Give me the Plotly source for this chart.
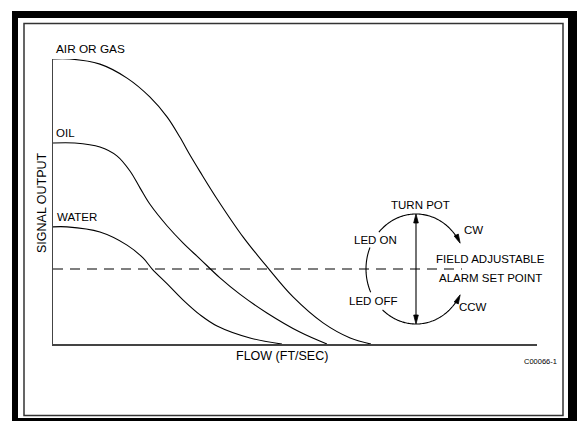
import numpy as np
import plotly.graph_objects as go

W, H = 577, 421

# ---------------- data (flow units 0-10, signal units 0-10) ----------------
air_flow = [0, 0.35, 0.97, 1.53, 2.00, 2.36, 2.62, 2.83, 3.04, 3.39, 3.93, 4.44, 4.96, 5.58, 6.14, 6.57]
air_sig = [10.0, 10.0, 9.82, 9.33, 8.67, 7.96, 7.26, 6.63, 6.04, 5.09, 3.75, 2.67, 1.65, 0.74, 0.21, 0]

oil_flow = [0, 0.45, 0.97, 1.32, 1.59, 1.80, 2.00, 2.36, 2.69, 3.04, 3.45, 3.86, 4.42, 5.10, 5.66]
oil_sig = [7.05, 7.05, 6.91, 6.60, 6.07, 5.47, 4.91, 4.14, 3.54, 2.98, 2.32, 1.75, 1.09, 0.42, 0]

water_flow = [0, 0.29, 0.97, 1.53, 1.86, 2.05, 2.36, 2.69, 3.04, 3.39, 4.07, 4.73]
water_sig = [4.11, 4.11, 3.93, 3.47, 3.02, 2.63, 2.11, 1.54, 1.02, 0.63, 0.21, 0]

alarm_flow = [0, 8.45]
alarm_sig = [2.63, 2.63]

# axes placement in pixels
X0, X1 = 53, 537
Y0, Y1 = 344, 59


def P(x, y):
    return x / W, 1 - y / H


def path(pts, close=False):
    s = ""
    for i, (x, y) in enumerate(pts):
        px, py = P(x, y)
        s += ("M" if i == 0 else " L") + f"{px:.5f},{py:.5f}"
    if close:
        s += " Z"
    return s


fig = go.Figure()

line = dict(color="black", width=1.1, shape="spline", smoothing=1.0)
fig.add_trace(go.Scatter(x=air_flow, y=air_sig, mode="lines", line=line, hoverinfo="skip"))
fig.add_trace(go.Scatter(x=oil_flow, y=oil_sig, mode="lines", line=line, hoverinfo="skip"))
fig.add_trace(go.Scatter(x=water_flow, y=water_sig, mode="lines", line=line, hoverinfo="skip"))
fig.add_trace(go.Scatter(x=alarm_flow, y=alarm_sig, mode="lines",
                         line=dict(color="black", width=1.1, dash="10px,7px"), hoverinfo="skip"))

shapes = []
# outer thick frame
shapes.append(dict(type="rect", xref="paper", yref="paper", x0=12 / W, x1=1.01, y0=-0.01, y1=1 - 11 / H,
                   fillcolor="black", line=dict(width=0), layer="below"))
shapes.append(dict(type="rect", xref="paper", yref="paper", x0=18 / W, x1=568 / W, y0=1 - 418 / H, y1=1 - 18 / H,
                   fillcolor="white", line=dict(width=0), layer="below"))
shapes.append(dict(type="rect", xref="paper", yref="paper", x0=24 / W, x1=563 / W, y0=1 - 415.5 / H, y1=1 - 23.5 / H,
                   fillcolor="rgba(0,0,0,0)", line=dict(color="#333", width=1.5), layer="below"))

# ellipse diagram
cx, cy, rx, ry = 416, 269, 50, 55


def ell(t):
    r = np.radians(t)
    return cx + rx * np.cos(r), cy - ry * np.sin(r)


def arc(t0, t1, n=40):
    return [ell(t) for t in np.linspace(t0, t1, n)]


for a, b in [(90, 138), (157, 205), (228, 270)]:
    shapes.append(dict(type="path", xref="paper", yref="paper", path=path(arc(a, b)),
                       line=dict(color="black", width=1.1)))


def head(tip, direction, length=9, half=2.3):
    dx, dy = direction
    n = np.hypot(dx, dy)
    dx, dy = dx / n, dy / n
    bx, by = tip[0] - dx * length, tip[1] - dy * length
    nx, ny = -dy, dx
    return [tip, (bx + nx * half, by + ny * half), (bx - nx * half, by - ny * half)]


# CW arc (top right, decreasing angle)
tcw = 28
shapes.append(dict(type="path", xref="paper", yref="paper", path=path(arc(90, tcw + 6)),
                   line=dict(color="black", width=1.1)))
r = np.radians(tcw)
shapes.append(dict(type="path", xref="paper", yref="paper",
                   path=path(head(ell(tcw), (rx * np.sin(r), ry * np.cos(r))), close=True),
                   fillcolor="black", line=dict(color="black", width=0.8)))
# CCW arc (bottom right, increasing angle)
tccw = 332
shapes.append(dict(type="path", xref="paper", yref="paper", path=path(arc(270, tccw - 6)),
                   line=dict(color="black", width=1.1)))
r = np.radians(tccw)
shapes.append(dict(type="path", xref="paper", yref="paper",
                   path=path(head(ell(tccw), (-rx * np.sin(r), -ry * np.cos(r))), close=True),
                   fillcolor="black", line=dict(color="black", width=0.8)))
# vertical double arrow
shapes.append(dict(type="path", xref="paper", yref="paper", path=path([(cx, cy - ry + 4), (cx, cy + ry - 4)]),
                   line=dict(color="black", width=1.1)))
for tip, d in [((cx, cy - ry), (0, -1)), ((cx, cy + ry), (0, 1))]:
    shapes.append(dict(type="path", xref="paper", yref="paper", path=path(head(tip, d), close=True),
                       fillcolor="black", line=dict(color="black", width=0.8)))

FONT = "Liberation Sans, Arial, sans-serif"


def txt(s, x, y, size=11.5, angle=0, anchor="center"):
    px, py = P(x, y)
    return dict(text=s, x=px, y=py, xref="paper", yref="paper", showarrow=False,
                xanchor=anchor, yanchor="middle", textangle=angle,
                font=dict(family=FONT, size=size, color="black"))


annotations = [
    txt("AIR OR GAS", 54, 49, size=11.8, anchor="left"),
    txt("OIL", 54, 133, anchor="left"),
    txt("WATER", 55, 217, anchor="left"),
    txt("SIGNAL OUTPUT", 42, 203, size=12.5, angle=-90),
    txt("FLOW (FT/SEC)", 282, 356, size=12.5),
    txt("C00066-1", 540, 361, size=7.5),
    txt("TURN POT", 420, 205),
    txt("CW", 473, 230),
    txt("FIELD ADJUSTABLE", 490, 259),
    txt("ALARM SET POINT", 490, 278),
    txt("CCW", 473, 307),
    txt("LED ON", 375, 240),
    txt("LED OFF", 373, 301),
]

fig.update_layout(
    width=W, height=H, margin=dict(l=0, r=0, t=0, b=0),
    paper_bgcolor="white", plot_bgcolor="rgba(0,0,0,0)",
    showlegend=False, shapes=shapes, annotations=annotations,
    xaxis=dict(domain=[X0 / W, X1 / W], range=[0, 10], showline=True, linecolor="#444", linewidth=1.5,
               showgrid=False, zeroline=False, showticklabels=False, ticks="", fixedrange=True),
    yaxis=dict(domain=[1 - Y0 / H, 1 - Y1 / H], range=[0, 10], showline=True, linecolor="#444", linewidth=1.5,
               showgrid=False, zeroline=False, showticklabels=False, ticks="", fixedrange=True),
)

fig.write_html("out.html", config={"displayModeBar": False, "staticPlot": True},
               post_script="document.body.style.margin='0';document.body.style.overflow='hidden';")
